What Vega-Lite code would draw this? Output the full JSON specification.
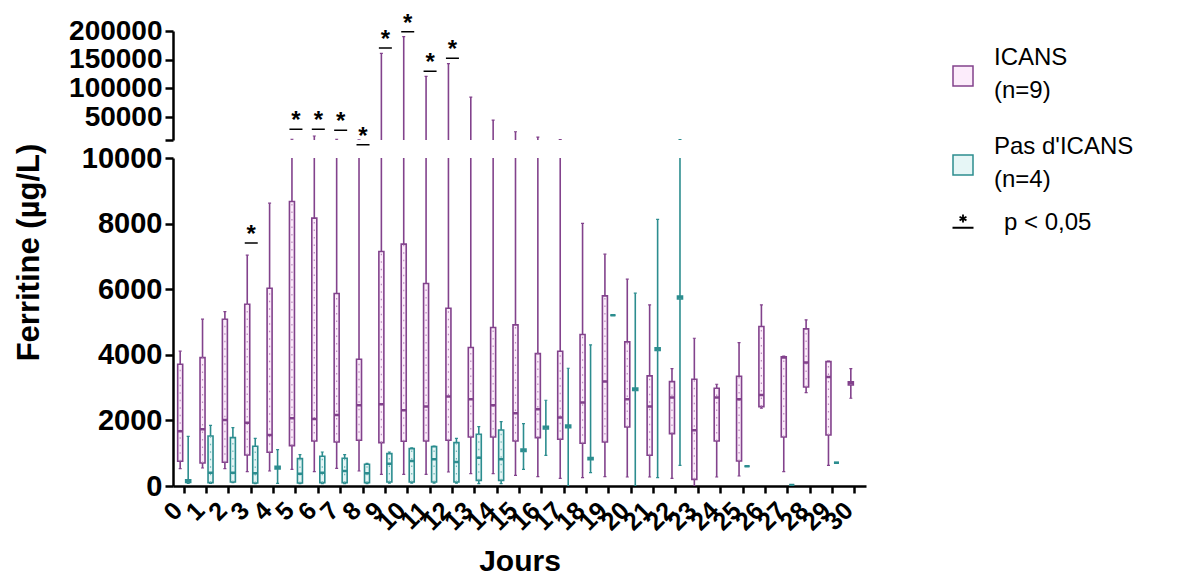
{
  "$schema": "https://vega.github.io/schema/vega-lite/v6.json",
  "background": "white",
  "padding": {"left": 12, "top": 11, "right": 5, "bottom": 5},
  "spacing": 18,
  "bounds": "flush",
  "config": {
    "font": "Liberation Sans",
    "view": {"stroke": null},
    "axis": {"domainColor": "black", "tickColor": "black", "labelColor": "black", "titleColor": "black", "domainWidth": 2.5, "tickWidth": 2.5, "grid": false, "labelFont": "Liberation Sans", "titleFont": "Liberation Sans", "labelOverlap": false}
  },
  "datasets": {
    "box": [
      {"day": 0, "group": "ICANS", "min": 529, "q1": 753, "median": 1668, "q3": 3712, "max": 4109},
      {"day": 1, "group": "ICANS", "min": 549, "q1": 702, "median": 1729, "q3": 3915, "max": 5085},
      {"day": 2, "group": "ICANS", "min": 529, "q1": 722, "median": 2014, "q3": 5085, "max": 5319},
      {"day": 3, "group": "ICANS", "min": 437, "q1": 946, "median": 1932, "q3": 5543, "max": 7038},
      {"day": 4, "group": "ICANS", "min": 458, "q1": 1027, "median": 1556, "q3": 6031, "max": 8624},
      {"day": 5, "group": "ICANS", "min": 509, "q1": 1231, "median": 2065, "q3": 8675, "max": 11300},
      {"day": 6, "group": "ICANS", "min": 437, "q1": 1373, "median": 2044, "q3": 8167, "max": 17000},
      {"day": 7, "group": "ICANS", "min": 539, "q1": 1342, "median": 2166, "q3": 5868, "max": 11300},
      {"day": 8, "group": "ICANS", "min": 458, "q1": 1393, "median": 2461, "q3": 3865, "max": 10050},
      {"day": 9, "group": "ICANS", "min": 356, "q1": 1322, "median": 2492, "q3": 7150, "max": 161100},
      {"day": 10, "group": "ICANS", "min": 356, "q1": 1363, "median": 2309, "q3": 7373, "max": 190100},
      {"day": 11, "group": "ICANS", "min": 356, "q1": 1373, "median": 2420, "q3": 6173, "max": 121000},
      {"day": 12, "group": "ICANS", "min": 427, "q1": 1393, "median": 2726, "q3": 5421, "max": 143000},
      {"day": 13, "group": "ICANS", "min": 376, "q1": 1495, "median": 2644, "q3": 4221, "max": 84900},
      {"day": 14, "group": "ICANS", "min": 376, "q1": 1495, "median": 2461, "q3": 4831, "max": 44800},
      {"day": 15, "group": "ICANS", "min": 325, "q1": 1373, "median": 2217, "q3": 4912, "max": 24400},
      {"day": 16, "group": "ICANS", "min": 285, "q1": 1475, "median": 2339, "q3": 4037, "max": 15100},
      {"day": 17, "group": "ICANS", "min": 234, "q1": 1424, "median": 2085, "q3": 4109, "max": 10600},
      {"day": 18, "group": "ICANS", "min": 254, "q1": 1302, "median": 2543, "q3": 4617, "max": 8004},
      {"day": 19, "group": "ICANS", "min": 285, "q1": 1342, "median": 3183, "q3": 5797, "max": 7068},
      {"day": 20, "group": "ICANS", "min": 275, "q1": 1800, "median": 2644, "q3": 4393, "max": 6305},
      {"day": 21, "group": "ICANS", "min": 275, "q1": 936, "median": 2420, "q3": 3356, "max": 5522},
      {"day": 22, "group": "ICANS", "min": 234, "q1": 1597, "median": 2695, "q3": 3183, "max": 3580},
      {"day": 23, "group": "ICANS", "min": 0, "q1": 203, "median": 1698, "q3": 3254, "max": 4505},
      {"day": 24, "group": "ICANS", "min": 275, "q1": 1373, "median": 2695, "q3": 2980, "max": 3102},
      {"day": 25, "group": "ICANS", "min": 305, "q1": 763, "median": 2644, "q3": 3346, "max": 4373},
      {"day": 26, "group": "ICANS", "min": 2370, "q1": 2420, "median": 2776, "q3": 4861, "max": 5522},
      {"day": 27, "group": "ICANS", "min": 437, "q1": 1495, "median": 3915, "q3": 3936, "max": 3960},
      {"day": 28, "group": "ICANS", "min": 2848, "q1": 3020, "median": 3763, "q3": 4790, "max": 5065},
      {"day": 29, "group": "ICANS", "min": 631, "q1": 1556, "median": 3326, "q3": 3793, "max": 3810},
      {"day": 30, "group": "ICANS", "min": 2675, "q1": 3080, "median": 3132, "q3": 3180, "max": 3580},
      {"day": 0, "group": "Pas d'ICANS", "min": 80, "q1": 110, "median": 150, "q3": 190, "max": 1515},
      {"day": 1, "group": "Pas d'ICANS", "min": 80, "q1": 102, "median": 407, "q3": 1526, "max": 1851},
      {"day": 2, "group": "Pas d'ICANS", "min": 100, "q1": 122, "median": 407, "q3": 1475, "max": 1780},
      {"day": 3, "group": "Pas d'ICANS", "min": 70, "q1": 92, "median": 386, "q3": 1210, "max": 1454},
      {"day": 4, "group": "Pas d'ICANS", "min": 81, "q1": 520, "median": 560, "q3": 600, "max": 1109},
      {"day": 5, "group": "Pas d'ICANS", "min": 71, "q1": 92, "median": 376, "q3": 834, "max": 956},
      {"day": 6, "group": "Pas d'ICANS", "min": 70, "q1": 102, "median": 407, "q3": 905, "max": 1037},
      {"day": 7, "group": "Pas d'ICANS", "min": 70, "q1": 102, "median": 458, "q3": 844, "max": 956},
      {"day": 8, "group": "Pas d'ICANS", "min": 70, "q1": 102, "median": 386, "q3": 661, "max": 692},
      {"day": 9, "group": "Pas d'ICANS", "min": 90, "q1": 122, "median": 681, "q3": 986, "max": 1037},
      {"day": 10, "group": "Pas d'ICANS", "min": 90, "q1": 122, "median": 763, "q3": 1139, "max": 1160},
      {"day": 11, "group": "Pas d'ICANS", "min": 90, "q1": 122, "median": 814, "q3": 1200, "max": 1220},
      {"day": 12, "group": "Pas d'ICANS", "min": 90, "q1": 122, "median": 732, "q3": 1322, "max": 1454},
      {"day": 13, "group": "Pas d'ICANS", "min": 70, "q1": 173, "median": 864, "q3": 1576, "max": 1810},
      {"day": 14, "group": "Pas d'ICANS", "min": 70, "q1": 173, "median": 814, "q3": 1709, "max": 1963},
      {"day": 15, "group": "Pas d'ICANS", "min": 509, "q1": 1050, "median": 1088, "q3": 1130, "max": 1902},
      {"day": 16, "group": "Pas d'ICANS", "min": 936, "q1": 1740, "median": 1780, "q3": 1820, "max": 2614},
      {"day": 17, "group": "Pas d'ICANS", "min": 0, "q1": 1780, "median": 1820, "q3": 1860, "max": 3590},
      {"day": 18, "group": "Pas d'ICANS", "min": 407, "q1": 800, "median": 834, "q3": 870, "max": 4302},
      {"day": 19, "group": "Pas d'ICANS", "min": 5207, "q1": 5207, "median": 5207, "q3": 5207, "max": 5207},
      {"day": 20, "group": "Pas d'ICANS", "min": 0, "q1": 2910, "median": 2949, "q3": 2990, "max": 5878},
      {"day": 21, "group": "Pas d'ICANS", "min": 254, "q1": 4130, "median": 4170, "q3": 4210, "max": 8126},
      {"day": 22, "group": "Pas d'ICANS", "min": 631, "q1": 5700, "median": 5746, "q3": 5790, "max": 10600},
      {"day": 25, "group": "Pas d'ICANS", "min": 600, "q1": 600, "median": 600, "q3": 600, "max": 600},
      {"day": 27, "group": "Pas d'ICANS", "min": 30, "q1": 30, "median": 30, "q3": 30, "max": 30},
      {"day": 29, "group": "Pas d'ICANS", "min": 712, "q1": 712, "median": 712, "q3": 712, "max": 712}
    ],
    "sig": [
      {"day": 3, "y": 7406, "panel": "low", "sig": "p"},
      {"day": 8, "y": 10406, "panel": "low", "sig": "p"},
      {"day": 5, "y": 28600, "panel": "up", "sig": "p"},
      {"day": 6, "y": 28600, "panel": "up", "sig": "p"},
      {"day": 7, "y": 26900, "panel": "up", "sig": "p"},
      {"day": 9, "y": 170400, "panel": "up", "sig": "p"},
      {"day": 10, "y": 198800, "panel": "up", "sig": "p"},
      {"day": 11, "y": 129750, "panel": "up", "sig": "p"},
      {"day": 12, "y": 152400, "panel": "up", "sig": "p"}
    ]
  },
  "resolve": {
    "scale": {"fill": "independent", "stroke": "independent", "color": "independent", "shape": "independent", "x": "independent", "y": "independent"},
    "legend": {"fill": "independent", "stroke": "independent", "color": "independent", "shape": "independent"}
  },
  "vconcat": [
    {
      "width": 693,
      "height": 109,
      "data": {"name": "box"},
      "encoding": {
        "x": {"field": "day", "type": "ordinal", "scale": {"domain": [0,1,2,3,4,5,6,7,8,9,10,11,12,13,14,15,16,17,18,19,20,21,22,23,24,25,26,27,28,29,30], "paddingInner": 0, "paddingOuter": 0}, "axis": null}
      },
      "layer": [
        {
          "mark": {"type": "rule", "strokeWidth": 1.6, "clip": true},
          "encoding": {
            "xOffset": {"field": "group", "type": "nominal", "scale": {"domain": ["ICANS", "Pas d'ICANS"], "paddingInner": 0.3, "paddingOuter": 0.547}},
            "y": {"field": "min", "type": "quantitative", "scale": {"domain": [10000, 200000], "nice": false, "zero": false},
              "axis": {"values": [10000, 50000, 100000, 150000, 200000], "tickCount": 20, "format": "d", "labelExpr": "datum.value == 10000 ? '' : datum.label", "labelOverlap": false, "labelBound": false, "title": null, "labelFontSize": 28, "labelFontWeight": "bold", "tickSize": 8, "labelPadding": 3}},
            "y2": {"field": "max"},
            "stroke": {"field": "group", "type": "nominal", "scale": {"domain": ["ICANS", "Pas d'ICANS"], "range": ["#82428c", "#2c8d8f"]}, "legend": null}
          }
        },
        {
          "mark": {"type": "bar", "width": 3, "strokeWidth": 1.2, "fillOpacity": 0, "clip": true},
          "encoding": {
            "xOffset": {"field": "group", "type": "nominal"},
            "y": {"field": "max", "type": "quantitative"},
            "y2": {"field": "max"},
            "stroke": {"field": "group", "type": "nominal", "legend": null}
          }
        },
        {
          "data": {"name": "sig"},
          "transform": [{"filter": "datum.panel == 'up'"}],
          "mark": {"type": "bar", "width": 13, "stroke": "black", "strokeWidth": 1.5, "fillOpacity": 0},
          "encoding": {"y": {"field": "y", "type": "quantitative"}, "y2": {"field": "y"}}
        },
        {
          "data": {"name": "sig"},
          "transform": [{"filter": "datum.panel == 'up'"}],
          "mark": {"type": "text", "text": "*", "fontSize": 24, "fontWeight": "bold", "baseline": "alphabetic", "dy": -1, "color": "black"},
          "encoding": {"y": {"field": "y", "type": "quantitative"}}
        }
      ]
    },
    {
      "width": 693,
      "height": 328,
      "data": {"name": "box"},
      "encoding": {
        "x": {"field": "day", "type": "ordinal", "scale": {"domain": [0,1,2,3,4,5,6,7,8,9,10,11,12,13,14,15,16,17,18,19,20,21,22,23,24,25,26,27,28,29,30], "paddingInner": 0, "paddingOuter": 0},
          "axis": {"title": "Jours", "labelAngle": -45, "labelAlign": "right", "labelBaseline": "middle", "labelFontSize": 25, "labelFontWeight": "bold", "tickSize": 7, "labelPadding": 13, "labelOffset": -6, "titleFontSize": 30, "titleFontWeight": "bold", "titlePadding": 12}}
      },
      "layer": [
        {
          "mark": {"type": "rule", "strokeWidth": 1.6, "clip": true},
          "encoding": {
            "xOffset": {"field": "group", "type": "nominal", "scale": {"domain": ["ICANS", "Pas d'ICANS"], "paddingInner": 0.3, "paddingOuter": 0.547}},
            "y": {"field": "min", "type": "quantitative", "scale": {"domain": [0, 10000], "nice": false, "zero": false},
              "axis": {"values": [0, 2000, 4000, 6000, 8000, 10000], "tickCount": 20, "format": "d", "title": "Ferritine (µg/L)", "labelFontSize": 29, "labelFontWeight": "bold", "tickSize": 8, "labelPadding": 3, "titleFontSize": 31, "titleFontWeight": "bold", "titleX": -144, "titleY": 94, "titleBaseline": "middle", "titleAlign": "center", "titleAngle": 270}},
            "y2": {"field": "max"},
            "stroke": {"field": "group", "type": "nominal", "scale": {"domain": ["ICANS", "Pas d'ICANS"], "range": ["#82428c", "#2c8d8f"]},
              "legend": {"orient": "none", "legendX": 778, "legendY": -94, "title": null, "symbolType": "square", "symbolSize": 400, "symbolStrokeWidth": 1.5, "labelFontSize": 24, "labelOffset": 19, "rowPadding": 32, "labelLimit": 0, "labelColor": "black",
                "labelExpr": "datum.value == 'ICANS' ? ['ICANS', '(n=9)'] : [\"Pas d'ICANS\", '(n=4)']",
                "encode": {"labels": {"update": {"lineHeight": {"value": 33}, "dy": {"value": -18}}}}}}
          }
        },
        {
          "mark": {"type": "bar", "width": 5, "strokeWidth": 1.6, "clip": true},
          "encoding": {
            "xOffset": {"field": "group", "type": "nominal"},
            "y": {"field": "q1", "type": "quantitative"},
            "y2": {"field": "q3"},
            "fill": {"field": "group", "type": "nominal", "scale": {"domain": ["ICANS", "Pas d'ICANS"], "range": ["#fcecfb", "#e6f6f6"]},
              "legend": {"orient": "none", "legendX": 778, "legendY": -94, "title": null, "symbolType": "square", "symbolSize": 400, "symbolStrokeWidth": 1.5, "labelFontSize": 24, "labelOffset": 19, "rowPadding": 32, "labelLimit": 0, "labelColor": "black",
                "labelExpr": "datum.value == 'ICANS' ? ['ICANS', '(n=9)'] : [\"Pas d'ICANS\", '(n=4)']",
                "encode": {"labels": {"update": {"lineHeight": {"value": 33}, "dy": {"value": -18}}}}}},
            "stroke": {"field": "group", "type": "nominal"}
          }
        },
        {
          "mark": {"type": "rule", "strokeWidth": 1.2, "strokeDash": [1.5, 6], "clip": true},
          "encoding": {
            "xOffset": {"field": "group", "type": "nominal"},
            "y": {"field": "q1", "type": "quantitative"},
            "y2": {"field": "q3"},
            "color": {"field": "group", "type": "nominal", "scale": {"domain": ["ICANS", "Pas d'ICANS"], "range": ["#b98cbc", "#70b6b6"]}, "legend": null}
          }
        },
        {
          "mark": {"type": "bar", "width": 5, "strokeWidth": 2.5, "fillOpacity": 0, "clip": true},
          "encoding": {
            "xOffset": {"field": "group", "type": "nominal"},
            "y": {"field": "median", "type": "quantitative"},
            "y2": {"field": "median"},
            "stroke": {"field": "group", "type": "nominal"}
          }
        },
        {
          "mark": {"type": "bar", "width": 3, "strokeWidth": 1.2, "fillOpacity": 0, "clip": true},
          "encoding": {
            "xOffset": {"field": "group", "type": "nominal"},
            "y": {"field": "max", "type": "quantitative"},
            "y2": {"field": "max"},
            "stroke": {"field": "group", "type": "nominal"}
          }
        },
        {
          "mark": {"type": "bar", "width": 3, "strokeWidth": 1.2, "fillOpacity": 0, "clip": true},
          "encoding": {
            "xOffset": {"field": "group", "type": "nominal"},
            "y": {"field": "min", "type": "quantitative"},
            "y2": {"field": "min"},
            "stroke": {"field": "group", "type": "nominal"}
          }
        },
        {
          "data": {"name": "sig"},
          "transform": [{"filter": "datum.panel == 'low'"}],
          "mark": {"type": "bar", "width": 13, "stroke": "black", "strokeWidth": 1.5, "fillOpacity": 0},
          "encoding": {"y": {"field": "y", "type": "quantitative"}, "y2": {"field": "y"}}
        },
        {
          "data": {"name": "sig"},
          "transform": [{"filter": "datum.panel == 'low'"}],
          "mark": {"type": "text", "text": "*", "fontSize": 24, "fontWeight": "bold", "baseline": "alphabetic", "dy": -1, "color": "black"},
          "encoding": {"y": {"field": "y", "type": "quantitative"}}
        },
        {
          "data": {"name": "sig"},
          "transform": [{"filter": "datum.panel == 'low'"}, {"filter": "datum.day == 3"}],
          "mark": {"type": "point", "opacity": 0, "filled": false, "color": "black"},
          "encoding": {
            "y": {"field": "y", "type": "quantitative"},
            "shape": {"field": "sig", "type": "nominal", "scale": {"domain": ["p"], "range": ["M-1,0.45H1M0,-0.8V-0.05M-0.33,-0.6L0.33,-0.25M0.33,-0.6L-0.33,-0.25"]},
              "legend": {"orient": "none", "legendX": 778, "legendY": 53, "title": null, "symbolSize": 441, "symbolStrokeWidth": 1.8, "symbolStrokeColor": "black", "symbolFillColor": "transparent", "symbolOpacity": 1, "labelFontSize": 24, "labelOffset": 29, "labelColor": "black", "labelExpr": "'p < 0,05'"}}
          }
        }
      ]
    }
  ]
}
